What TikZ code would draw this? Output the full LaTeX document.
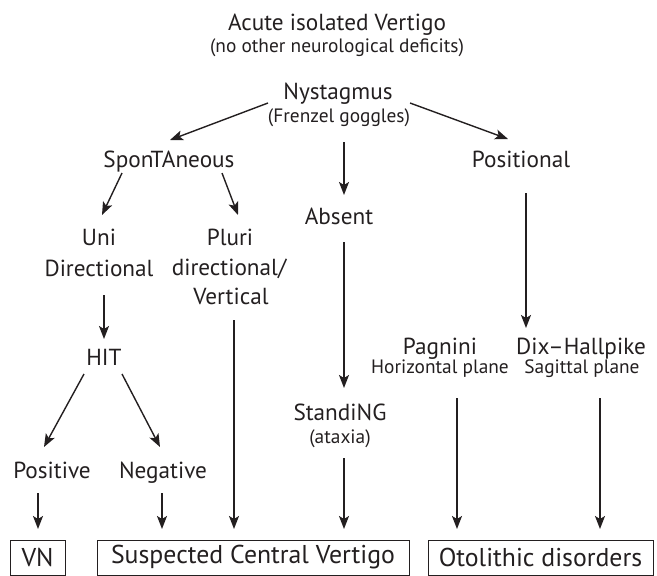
\documentclass[tikz,border=0pt]{standalone}
\usepackage{fontspec}
\setmainfont{PT Sans}
\usetikzlibrary{arrows.meta}
\definecolor{ink}{RGB}{35,31,32}
\newlength\calw
\AtBeginDocument{%
  \settowidth\calw{\rmfamily\fontsize{10pt}{12pt}\selectfont Acute isolated Vertigo}%
  \xdef\mainfs{\the\dimexpr 2180pt*65536/\calw\relax}%
  \xdef\boxfs{\the\dimexpr 2420pt*65536/\calw\relax}%
  \settowidth\calw{\rmfamily\fontsize{10pt}{12pt}\selectfont (no other neurological deficits)}%
  \xdef\subfs{\the\dimexpr 2540pt*65536/\calw\relax}%
}
\begin{document}
\begin{tikzpicture}[x=1pt,y=-1pt, color=ink,
  lbl/.style={inner sep=0pt, anchor=base, font=\fontsize{\mainfs}{\mainfs}\selectfont},
  sub/.style={inner sep=0pt, anchor=base, font=\fontsize{\subfs}{\subfs}\selectfont},
  res/.style={draw, line width=0.9pt, inner sep=0pt, minimum height=35pt, font=\fontsize{\boxfs}{\boxfs}\selectfont},
  arr/.style={line width=1.4pt, -{Stealth[length=13pt,width=10pt,inset=3pt]}}]
\useasboundingbox (0,0) rectangle (657,576);
\node[lbl] (acute) at (337,30) {Acute isolated Vertigo};
\node[sub] (acutes) at (337,52) {(no other neurological deficits)};
\node[lbl] (nyst) at (338,99) {Nystagmus};
\node[sub] (nysts) at (339,122) {(Frenzel goggles)};
\node[lbl] (spont) at (169,167) {SponTAneous};
\node[lbl] (posit) at (521,167) {Positional};
\node[lbl] (absent) at (339,224) {Absent};
\node[lbl] (uni) at (99,245) {Uni};
\node[lbl] (unid) at (99,276) {Directional};
\node[lbl] (pluri) at (230,245) {Pluri};
\node[lbl] (plurid) at (229,275) {directional/};
\node[lbl] (pluriv) at (231,304) {Vertical};
\node[lbl] (hit) at (104,365) {HIT};
\node[lbl] (pagn) at (440,354) {Pagnini};
\node[sub] (pagns) at (440,373) {Horizontal plane};
\node[lbl] (dix) at (581,354) {Dix--Hallpike};
\node[sub] (dixs) at (582,373) {Sagittal plane};
\node[lbl] (stand) at (340,420) {StandiNG};
\node[sub] (stands) at (340,443) {(ataxia)};
\node[lbl] (pos) at (52,478) {Positive};
\node[lbl] (neg) at (163,478) {Negative};
\node[res, minimum width=55pt] (vn) at (37.5,557.5) {VN};
\node[res, minimum width=312pt] (scv) at (253,557.5) {Suspected Central Vertigo};
\node[res, minimum width=225pt] (oto) at (540.5,557.5) {Otolithic disorders};
% arrows
\coordinate (a1s) at (268,103); \coordinate (a1e) at (170,140);
\draw[arr] (a1s) -- (a1e);
\coordinate (a2s) at (410,103); \coordinate (a2e) at (508,139);
\draw[arr] (a2s) -- (a2e);
\coordinate (a3s) at (344,142); \coordinate (a3e) at (344,195);
\draw[arr] (a3s) -- (a3e);
\coordinate (b1s) at (122,173); \coordinate (b1e) at (102,215);
\draw[arr] (b1s) -- (b1e);
\coordinate (b2s) at (222,173); \coordinate (b2e) at (238,215);
\draw[arr] (b2s) -- (b2e);
\coordinate (c1s) at (104,295); \coordinate (c1e) at (104,339);
\draw[arr] (c1s) -- (c1e);
\coordinate (d1s) at (84,374); \coordinate (d1e) at (44,447);
\draw[arr] (d1s) -- (d1e);
\coordinate (d2s) at (122,374); \coordinate (d2e) at (160,447);
\draw[arr] (d2s) -- (d2e);
\coordinate (e1s) at (38,493); \coordinate (e1e) at (38,529);
\draw[arr] (e1s) -- (e1e);
\coordinate (e2s) at (162,493); \coordinate (e2e) at (162,529);
\draw[arr] (e2s) -- (e2e);
\coordinate (f1s) at (234,320); \coordinate (f1e) at (234,529);
\draw[arr] (f1s) -- (f1e);
\coordinate (g1s) at (344,242); \coordinate (g1e) at (344,388);
\draw[arr] (g1s) -- (g1e);
\coordinate (g2s) at (344,458); \coordinate (g2e) at (344,529);
\draw[arr] (g2s) -- (g2e);
\coordinate (h1s) at (526,193); \coordinate (h1e) at (526,328);
\draw[arr] (h1s) -- (h1e);
\coordinate (i1s) at (457,398); \coordinate (i1e) at (457,529);
\draw[arr] (i1s) -- (i1e);
\coordinate (i2s) at (600,398); \coordinate (i2e) at (600,529);
\draw[arr] (i2s) -- (i2e);
\end{tikzpicture}
\end{document}
